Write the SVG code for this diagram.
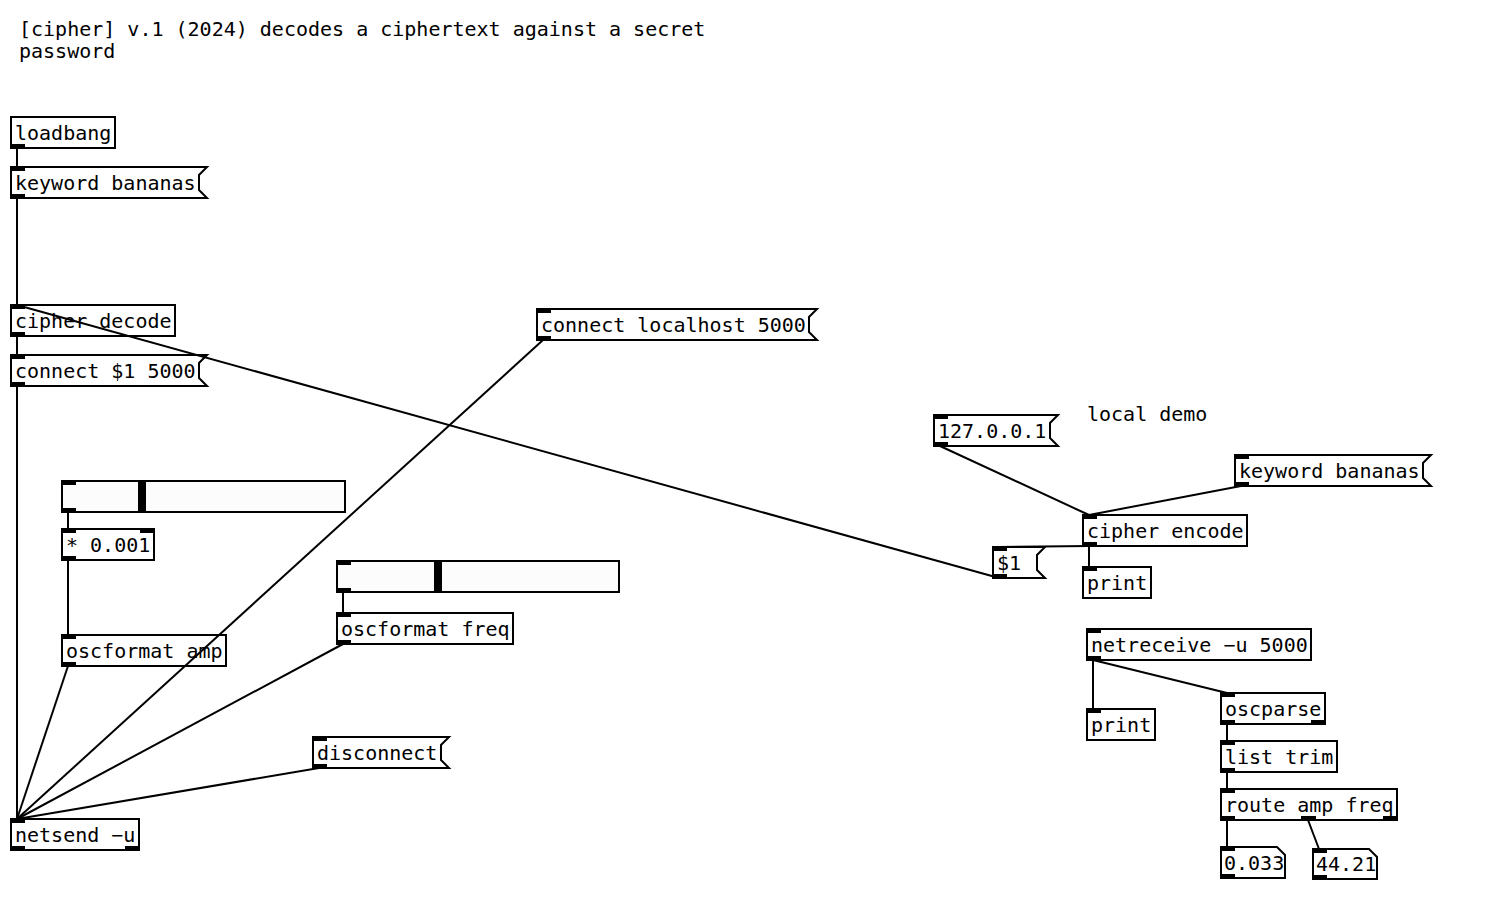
<svg xmlns="http://www.w3.org/2000/svg" width="1500" height="912" viewBox="0 0 1500 912">
<style>
.b{fill:#fff;stroke:#000;stroke-width:2}
.s{fill:#fcfcfc;stroke:#000;stroke-width:2}
.io{fill:#000}
.t{font-family:'DejaVu Sans Mono',monospace;font-size:20px;fill:#000}
.cn line{stroke:#000;stroke-width:2}
</style>
<rect width="1500" height="912" fill="#fff"/>
<g id="title"><text class="t" x="19" y="36">[cipher] v.1 (2024) decodes a ciphertext against a secret</text><text class="t" x="19" y="58">password</text></g>
<g id="comment-local"><text class="t" x="1087" y="421">local demo</text></g>

<g id="loadbang"><rect class="b" x="11" y="117" width="104" height="31"/><rect class="io" x="10" y="144" width="15" height="5"/><text class="t" x="15" y="140">loadbang</text></g>
<g id="msg-keyword1"><polygon class="b" points="11,167 207,167 199,175 199,190 207,198 11,198"/><rect class="io" x="10" y="166" width="15" height="5"/><rect class="io" x="10" y="194" width="15" height="5"/><text class="t" x="15" y="190">keyword bananas</text></g>
<g id="cipher-decode"><rect class="b" x="11" y="305" width="164" height="31"/><rect class="io" x="10" y="304" width="15" height="5"/><rect class="io" x="10" y="332" width="15" height="5"/><text class="t" x="15" y="328">cipher decode</text></g>
<g id="msg-connect1"><polygon class="b" points="11,355 207,355 199,363 199,378 207,386 11,386"/><rect class="io" x="10" y="354" width="15" height="5"/><rect class="io" x="10" y="382" width="15" height="5"/><text class="t" x="15" y="378">connect $1 5000</text></g>
<g id="msg-connect2"><polygon class="b" points="537,309 817,309 809,317 809,332 817,340 537,340"/><rect class="io" x="536" y="308" width="15" height="5"/><rect class="io" x="536" y="336" width="15" height="5"/><text class="t" x="541" y="332">connect localhost 5000</text></g>
<g id="hslider1"><rect class="s" x="62" y="481" width="283" height="31"/><rect class="io" x="138" y="482" width="8" height="29"/><rect class="io" x="61" y="480" width="15" height="5"/><rect class="io" x="61" y="508" width="15" height="5"/></g>
<g id="mul"><rect class="b" x="62" y="529" width="92" height="31"/><rect class="io" x="61" y="528" width="15" height="5"/><rect class="io" x="140" y="528" width="15" height="5"/><rect class="io" x="61" y="556" width="15" height="5"/><text class="t" x="66" y="552">* 0.001</text></g>
<g id="oscformat-amp"><rect class="b" x="62" y="635" width="164" height="31"/><rect class="io" x="61" y="634" width="15" height="5"/><rect class="io" x="61" y="662" width="15" height="5"/><text class="t" x="66" y="658">oscformat amp</text></g>
<g id="hslider2"><rect class="s" x="337" y="561" width="282" height="31"/><rect class="io" x="434" y="562" width="8" height="29"/><rect class="io" x="336" y="560" width="15" height="5"/><rect class="io" x="336" y="588" width="15" height="5"/></g>
<g id="oscformat-freq"><rect class="b" x="337" y="613" width="176" height="31"/><rect class="io" x="336" y="612" width="15" height="5"/><rect class="io" x="336" y="640" width="15" height="5"/><text class="t" x="341" y="636">oscformat freq</text></g>
<g id="msg-disconnect"><polygon class="b" points="313,737 449,737 441,745 441,760 449,768 313,768"/><rect class="io" x="312" y="736" width="15" height="5"/><rect class="io" x="312" y="764" width="15" height="5"/><text class="t" x="317" y="760">disconnect</text></g>
<g id="netsend"><rect class="b" x="11" y="819" width="128" height="31"/><rect class="io" x="10" y="818" width="15" height="5"/><rect class="io" x="10" y="846" width="15" height="5"/><rect class="io" x="125" y="846" width="15" height="5"/><text class="t" x="15" y="842">netsend −u</text></g>

<g id="msg-ip"><polygon class="b" points="934,415 1058,415 1050,423 1050,438 1058,446 934,446"/><rect class="io" x="933" y="414" width="15" height="5"/><rect class="io" x="933" y="442" width="15" height="5"/><text class="t" x="938" y="438">127.0.0.1</text></g>
<g id="msg-keyword2"><polygon class="b" points="1235,455 1431,455 1423,463 1423,478 1431,486 1235,486"/><rect class="io" x="1234" y="454" width="15" height="5"/><rect class="io" x="1234" y="482" width="15" height="5"/><text class="t" x="1239" y="478">keyword bananas</text></g>
<g id="cipher-encode"><rect class="b" x="1083" y="515" width="164" height="31"/><rect class="io" x="1082" y="514" width="15" height="5"/><rect class="io" x="1082" y="542" width="15" height="5"/><text class="t" x="1087" y="538">cipher encode</text></g>
<g id="msg-dollar"><polygon class="b" points="993,547 1045,547 1037,555 1037,570 1045,578 993,578"/><rect class="io" x="992" y="546" width="15" height="5"/><rect class="io" x="992" y="574" width="15" height="5"/><text class="t" x="997" y="570">$1</text></g>
<g id="print1"><rect class="b" x="1083" y="567" width="68" height="31"/><rect class="io" x="1082" y="566" width="15" height="5"/><text class="t" x="1087" y="590">print</text></g>
<g id="netreceive"><rect class="b" x="1087" y="629" width="224" height="31"/><rect class="io" x="1086" y="628" width="15" height="5"/><rect class="io" x="1086" y="656" width="15" height="5"/><text class="t" x="1091" y="652">netreceive −u 5000</text></g>
<g id="print2"><rect class="b" x="1087" y="709" width="68" height="31"/><rect class="io" x="1086" y="708" width="15" height="5"/><text class="t" x="1091" y="732">print</text></g>
<g id="oscparse"><rect class="b" x="1221" y="693" width="104" height="31"/><rect class="io" x="1220" y="692" width="15" height="5"/><rect class="io" x="1220" y="720" width="15" height="5"/><rect class="io" x="1311" y="720" width="15" height="5"/><text class="t" x="1225" y="716">oscparse</text></g>
<g id="list-trim"><rect class="b" x="1221" y="741" width="116" height="31"/><rect class="io" x="1220" y="740" width="15" height="5"/><rect class="io" x="1220" y="768" width="15" height="5"/><text class="t" x="1225" y="764">list trim</text></g>
<g id="route"><rect class="b" x="1221" y="789" width="176" height="31"/><rect class="io" x="1220" y="788" width="15" height="5"/><rect class="io" x="1220" y="816" width="15" height="5"/><rect class="io" x="1301" y="816" width="15" height="5"/><rect class="io" x="1383" y="816" width="15" height="5"/><text class="t" x="1225" y="812">route amp freq</text></g>
<g id="num1"><polygon class="b" points="1221,847 1277,847 1285,855 1285,878 1221,878"/><rect class="io" x="1220" y="846" width="15" height="5"/><rect class="io" x="1220" y="874" width="15" height="5"/><text class="t" x="1224" y="870">0.033</text></g>
<g id="num2"><polygon class="b" points="1313,849 1369,849 1377,857 1377,879 1313,879"/><rect class="io" x="1312" y="848" width="15" height="5"/><rect class="io" x="1312" y="875" width="15" height="5"/><text class="t" x="1316" y="871">44.21</text></g>

<g id="connections" class="cn">
<line x1="17" y1="148" x2="17" y2="167"/>
<line x1="17" y1="198" x2="17" y2="305"/>
<line x1="17" y1="336" x2="17" y2="355"/>
<line x1="17" y1="386" x2="17" y2="819"/>
<line x1="543" y1="340" x2="17" y2="819"/>
<line x1="68" y1="512" x2="68" y2="529"/>
<line x1="68" y1="560" x2="68" y2="635"/>
<line x1="68" y1="666" x2="17" y2="819"/>
<line x1="343" y1="592" x2="343" y2="613"/>
<line x1="343" y1="644" x2="17" y2="819"/>
<line x1="319" y1="768" x2="17" y2="819"/>
<line x1="999" y1="578" x2="17" y2="305"/>
<line x1="940" y1="446" x2="1089" y2="515"/>
<line x1="1241" y1="486" x2="1089" y2="515"/>
<line x1="1089" y1="546" x2="999" y2="547"/>
<line x1="1089" y1="546" x2="1089" y2="567"/>
<line x1="1093" y1="660" x2="1093" y2="709"/>
<line x1="1093" y1="660" x2="1227" y2="693"/>
<line x1="1227" y1="724" x2="1227" y2="741"/>
<line x1="1227" y1="772" x2="1227" y2="789"/>
<line x1="1227" y1="820" x2="1227" y2="847"/>
<line x1="1308" y1="820" x2="1319" y2="849"/>
</g>
</svg>
